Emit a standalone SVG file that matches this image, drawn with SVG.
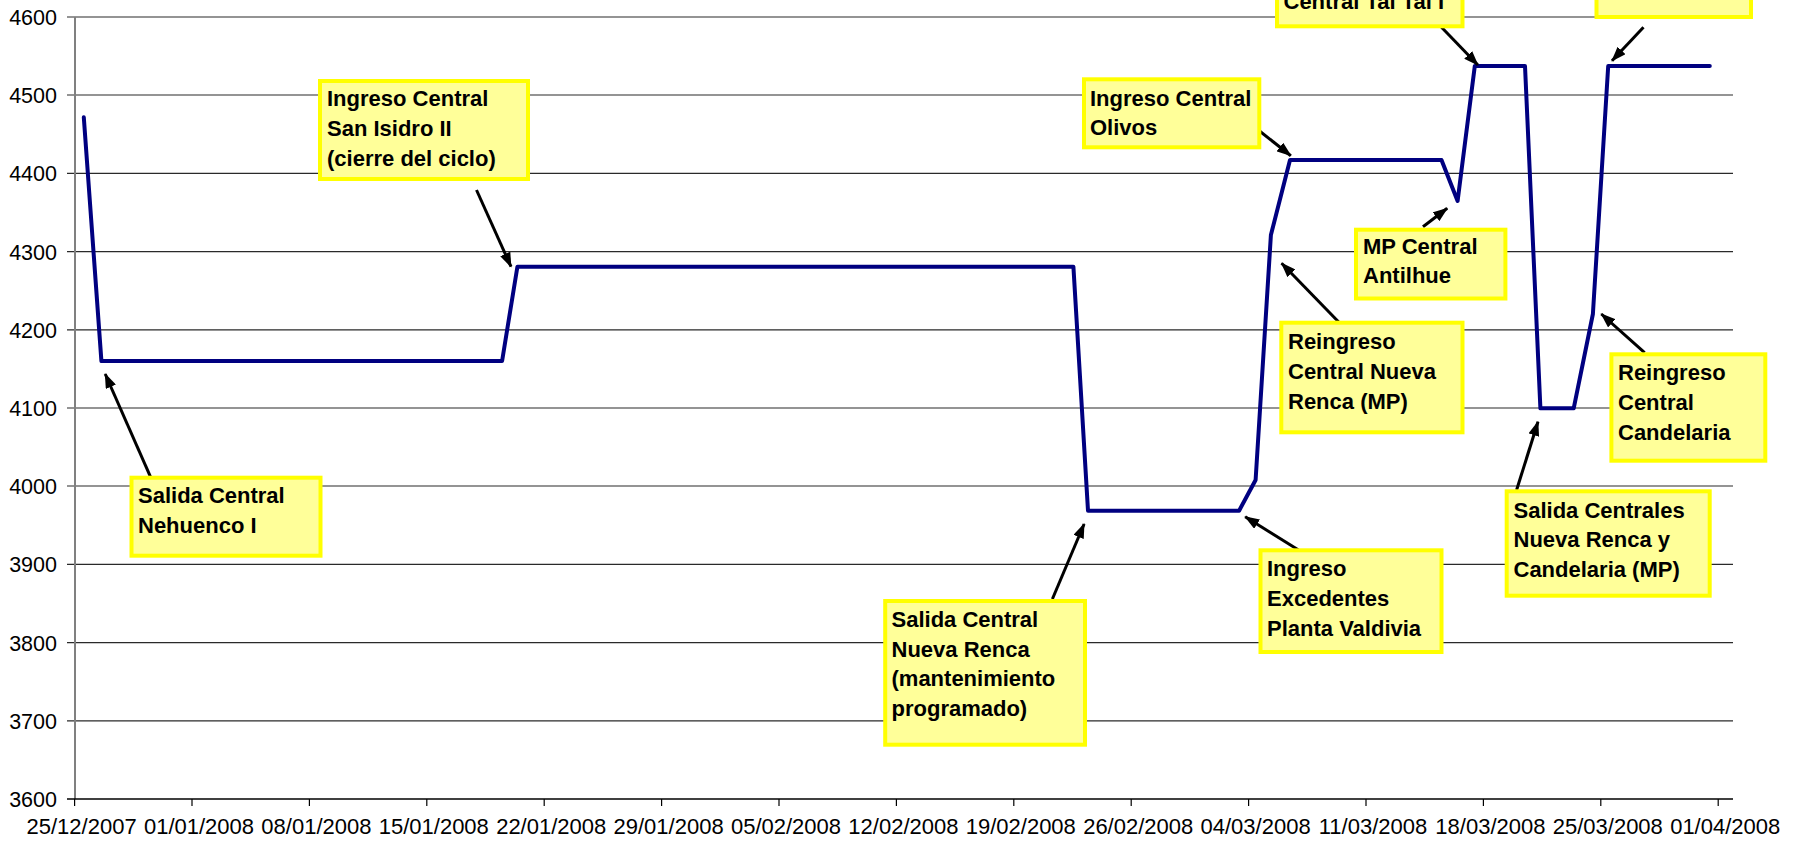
<svg xmlns="http://www.w3.org/2000/svg" width="1801" height="847" viewBox="0 0 1801 847">
<style>
.grid{stroke:#2a2a2a;stroke-width:1.2;fill:none}
.axis{stroke:#808080;stroke-width:2;fill:none}
.xaxis{stroke:#000;stroke-width:1.5;fill:none}
.tick{stroke:#000;stroke-width:1.2}
.ylab{font-family:"Liberation Sans",Arial,sans-serif;font-size:21.5px;fill:#000;text-anchor:end}
.xlab{font-family:"Liberation Sans",Arial,sans-serif;font-size:22px;fill:#000;text-anchor:middle}
.box{fill:#FFFF99;stroke:#FFFF00;stroke-width:4}
.bt{font-family:"Liberation Sans",Arial,sans-serif;font-size:22px;font-weight:bold;fill:#000}
.data{fill:none;stroke:#000080;stroke-width:4;stroke-linejoin:round;stroke-linecap:round}
.arr{stroke:#000;stroke-width:3;fill:none;marker-end:url(#ah)}
</style>
<defs>
<marker id="ah" markerUnits="userSpaceOnUse" markerWidth="15" markerHeight="11" viewBox="0 0 15 11" refX="14" refY="5.5" orient="auto">
<path d="M0,0 L15,5.5 L0,11 z" fill="#000"/>
</marker>
</defs>
<rect x="0" y="0" width="1801" height="847" fill="#fff"/>
<g id="grid">
<line class="grid" x1="67" y1="17" x2="1733" y2="17"/>
<line class="grid" x1="67" y1="95" x2="1733" y2="95"/>
<line class="grid" x1="67" y1="173.4" x2="1733" y2="173.4"/>
<line class="grid" x1="67" y1="251.6" x2="1733" y2="251.6"/>
<line class="grid" x1="67" y1="329.8" x2="1733" y2="329.8"/>
<line class="grid" x1="67" y1="408" x2="1733" y2="408"/>
<line class="grid" x1="67" y1="486" x2="1733" y2="486"/>
<line class="grid" x1="67" y1="564.4" x2="1733" y2="564.4"/>
<line class="grid" x1="67" y1="642.6" x2="1733" y2="642.6"/>
<line class="grid" x1="67" y1="720.8" x2="1733" y2="720.8"/>
</g>
<g id="axes">
<line class="axis" x1="75" y1="17" x2="75" y2="799"/>
<line class="xaxis" x1="67" y1="799" x2="1733" y2="799"/>
<g class="tick">
<line x1="74.6" y1="799" x2="74.6" y2="806"/>
<line x1="192" y1="799" x2="192" y2="806"/>
<line x1="309.4" y1="799" x2="309.4" y2="806"/>
<line x1="426.8" y1="799" x2="426.8" y2="806"/>
<line x1="544.2" y1="799" x2="544.2" y2="806"/>
<line x1="661.6" y1="799" x2="661.6" y2="806"/>
<line x1="779" y1="799" x2="779" y2="806"/>
<line x1="896.4" y1="799" x2="896.4" y2="806"/>
<line x1="1013.8" y1="799" x2="1013.8" y2="806"/>
<line x1="1131.2" y1="799" x2="1131.2" y2="806"/>
<line x1="1248.6" y1="799" x2="1248.6" y2="806"/>
<line x1="1366" y1="799" x2="1366" y2="806"/>
<line x1="1483.4" y1="799" x2="1483.4" y2="806"/>
<line x1="1600.8" y1="799" x2="1600.8" y2="806"/>
<line x1="1718.2" y1="799" x2="1718.2" y2="806"/>
</g>
<text class="ylab" x="57" y="25">4600</text>
<text class="ylab" x="57" y="103">4500</text>
<text class="ylab" x="57" y="181.4">4400</text>
<text class="ylab" x="57" y="259.6">4300</text>
<text class="ylab" x="57" y="337.8">4200</text>
<text class="ylab" x="57" y="416">4100</text>
<text class="ylab" x="57" y="494">4000</text>
<text class="ylab" x="57" y="572.4">3900</text>
<text class="ylab" x="57" y="650.6">3800</text>
<text class="ylab" x="57" y="728.8">3700</text>
<text class="ylab" x="57" y="807">3600</text>
<text class="xlab" x="81.6" y="834">25/12/2007</text>
<text class="xlab" x="199" y="834">01/01/2008</text>
<text class="xlab" x="316.4" y="834">08/01/2008</text>
<text class="xlab" x="433.8" y="834">15/01/2008</text>
<text class="xlab" x="551.2" y="834">22/01/2008</text>
<text class="xlab" x="668.6" y="834">29/01/2008</text>
<text class="xlab" x="786" y="834">05/02/2008</text>
<text class="xlab" x="903.4" y="834">12/02/2008</text>
<text class="xlab" x="1020.8" y="834">19/02/2008</text>
<text class="xlab" x="1138.2" y="834">26/02/2008</text>
<text class="xlab" x="1255.6" y="834">04/03/2008</text>
<text class="xlab" x="1373" y="834">11/03/2008</text>
<text class="xlab" x="1490.4" y="834">18/03/2008</text>
<text class="xlab" x="1607.8" y="834">25/03/2008</text>
<text class="xlab" x="1725.2" y="834">01/04/2008</text>
</g>
<g id="series">
<polyline class="data" points="83.8,117.3 101.4,361 502.1,361 517.4,266.7 1073.4,266.7 1088,510.7 1239.1,510.7 1255.6,480 1270.9,235 1290,160 1441.5,160 1457.6,201 1474.8,66 1525,66 1540.4,408.3 1573.7,408.3 1592.9,314 1608.2,66 1709.8,66"/>
</g>
<g id="connectors">
<line class="arr" x1="476.5" y1="190" x2="511" y2="266.7"/>
<line class="arr" x1="150.4" y1="476.7" x2="105.2" y2="374"/>
<line class="arr" x1="1258.3" y1="130" x2="1290.8" y2="155.7"/>
<line class="arr" x1="1441.5" y1="27.3" x2="1477.9" y2="65"/>
<line class="arr" x1="1643.5" y1="27.3" x2="1612" y2="60.7"/>
<line class="arr" x1="1423" y1="226.7" x2="1447.2" y2="208.3"/>
<line class="arr" x1="1339.9" y1="323.3" x2="1281.6" y2="263.3"/>
<line class="arr" x1="1644.6" y1="352.7" x2="1601.3" y2="314"/>
<line class="arr" x1="1516.6" y1="490" x2="1538" y2="421.7"/>
<line class="arr" x1="1298.5" y1="550" x2="1245.2" y2="516.7"/>
<line class="arr" x1="1052.4" y1="599" x2="1084.1" y2="524"/>
</g>
<g id="n-sanisidro">
<rect class="box" x="320" y="81" width="208" height="98"/>
<text class="bt" x="327" y="106">Ingreso Central</text>
<text class="bt" x="327" y="136">San Isidro II</text>
<text class="bt" x="327" y="166">(cierre del ciclo)</text>
</g>
<g id="n-nehuenco">
<rect class="box" x="131.5" y="477.7" width="189" height="78"/>
<text class="bt" x="138" y="503">Salida Central</text>
<text class="bt" x="138" y="533">Nehuenco I</text>
</g>
<g id="n-olivos">
<rect class="box" x="1084" y="79.3" width="175.3" height="68"/>
<text class="bt" x="1090" y="105.5">Ingreso Central</text>
<text class="bt" x="1090" y="135">Olivos</text>
</g>
<g id="n-taltal">
<rect class="box" x="1277" y="-40" width="185.5" height="66.3"/>
<text class="bt" x="1283.5" y="8.5">Central Tal Tal I</text>
</g>
<g id="n-topright">
<rect class="box" x="1596.5" y="-40" width="154.5" height="57"/>
</g>
<g id="n-antilhue">
<rect class="box" x="1356" y="229.7" width="149.4" height="68.8"/>
<text class="bt" x="1363" y="253.5">MP Central</text>
<text class="bt" x="1363" y="283">Antilhue</text>
</g>
<g id="n-reingresonr">
<rect class="box" x="1281.3" y="322.7" width="181.2" height="109.6"/>
<text class="bt" x="1288" y="348.5">Reingreso</text>
<text class="bt" x="1288" y="378.5">Central Nueva</text>
<text class="bt" x="1288" y="408.5">Renca (MP)</text>
</g>
<g id="n-candelaria">
<rect class="box" x="1611.4" y="354.3" width="153.9" height="106.4"/>
<text class="bt" x="1618" y="379.5">Reingreso</text>
<text class="bt" x="1618" y="409.5">Central</text>
<text class="bt" x="1618" y="439.5">Candelaria</text>
</g>
<g id="n-salidacentrales">
<rect class="box" x="1506.7" y="491.3" width="203" height="104.4"/>
<text class="bt" x="1513.5" y="517.5">Salida Centrales</text>
<text class="bt" x="1513.5" y="547">Nueva Renca y</text>
<text class="bt" x="1513.5" y="576.5">Candelaria (MP)</text>
</g>
<g id="n-excedentes">
<rect class="box" x="1260.5" y="550.3" width="181" height="101.7"/>
<text class="bt" x="1267" y="576">Ingreso</text>
<text class="bt" x="1267" y="606">Excedentes</text>
<text class="bt" x="1267" y="635.5">Planta Valdivia</text>
</g>
<g id="n-salidanr">
<rect class="box" x="885.2" y="601" width="199.8" height="143.7"/>
<text class="bt" x="891.5" y="627">Salida Central</text>
<text class="bt" x="891.5" y="656.5">Nueva Renca</text>
<text class="bt" x="891.5" y="686">(mantenimiento</text>
<text class="bt" x="891.5" y="715.5">programado)</text>
</g>
</svg>
